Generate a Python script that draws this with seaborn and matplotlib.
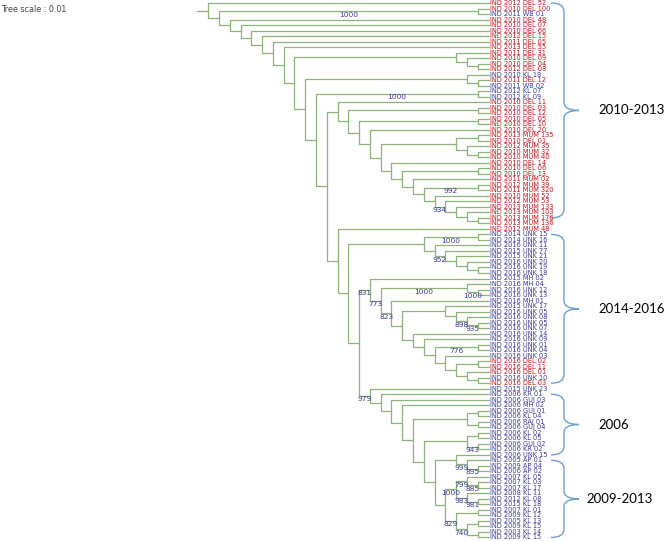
import matplotlib
matplotlib.use("Agg")
import matplotlib.pyplot as plt
import pandas as pd
import seaborn as sns
from matplotlib.patches import PathPatch
from matplotlib.path import Path

# ---- tree data (Newick pieces, bootstrap values as internal node labels) ----
TOP_RUNGS = [
    ("IND_2012_DEL_52", ""),
    ("(IND_2010_DEL_100,IND_2011_WB_01)1000", ""),
    ("IND_2010_DEL_48", ""),
    ("IND_2010_DEL_07", ""),
    ("IND_2010_DEL_66", ""),
    ("IND_2012_DEL_15", ""),
    ("IND_2011_DEL_05", ""),
    ("IND_2013_DEL_55", ""),
    ("(IND_2011_DEL_31,(IND_2010_DEL_09,(IND_2010_DEL_04,IND_2012_DEL_08)))", ""),
    ("(IND_2010_KL_18,(IND_2011_DEL_12,IND_2011_WB_02))", ""),
    ("(IND_2012_KL_07,IND_2012_KL_09)1000", ""),
]

DEL_MUM_RUNGS = [
    ("IND_2010_DEL_11", ""),
    ("(IND_2010_DEL_03,IND_2010_DEL_12)", ""),
    ("(IND_2010_DEL_05,IND_2010_DEL_10)", ""),
    ("IND_2010_DEL_20", ""),
    ("((IND_2013_MUM_135,IND_2010_DEL_01),(IND_2012_MUM_35,(IND_2010_MUM_32,IND_2010_MUM_40)))", ""),
    ("IND_2010_DEL_14", ""),
    ("(IND_2010_DEL_06,IND_2010_DEL_13)", ""),
    ("IND_2011_MUM_02", ""),
    ("(IND_2012_MUM_39,IND_2011_MUM_320)992", ""),
    ("IND_2010_MUM_52", ""),
    ("IND_2012_MUM_53", "934"),
    ("IND_2013_MUM_133", ""),
    ("IND_2013_MUM_103", ""),
]
DEL_MUM_TAIL = "(IND_2013_MUM_176,IND_2013_MUM_136)"

UNK_A_RUNGS = [
    ("(IND_2014_UNK_15,IND_2014_UNK_16)1000", ""),
    ("IND_2016_UNK_11", ""),
    ("IND_2015_UNK_77", "952"),
    ("IND_2015_UNK_21", ""),
    ("IND_2016_UNK_20", ""),
]
UNK_A_TAIL = "(IND_2016_UNK_19,IND_2016_UNK_18)"

UNK_C = "(IND_2015_UNK_17,(IND_2016_UNK_05,(IND_2016_UNK_08,(IND_2016_UNK_05,IND_2016_UNK_07)935)898))"
UNK_B_RUNGS = [
    ("IND_2015_MH_02", "831"),
    ("(IND_2016_MH_04,(IND_2016_UNK_12,IND_2016_UNK_13)1000)1000", "773"),
    ("IND_2016_MH_01", "823"),
    (UNK_C, ""),
    ("IND_2016_UNK_14", ""),
    ("IND_2016_UNK_09", ""),
    ("(IND_2016_UNK_01,IND_2016_UNK_04)776", ""),
    ("IND_2016_UNK_03", ""),
]
UNK_B_TAIL = "((IND_2016_DEL_02,IND_2016_DEL_11),(IND_2016_DEL_01,(IND_2016_UNK_10,IND_2016_DEL_03)))"

OLD_RUNGS = [
    ("IND_2015_UNK_23", "979"),
    ("IND_2006_KR_01", ""),
    ("IND_2006_GUJ_03", ""),
    ("IND_2006_MH_02", ""),
    ("((IND_2006_GUJ_01,IND_2006_KL_04),(IND_2006_RAJ_01,IND_2006_GUJ_04))", ""),
    ("((IND_2006_KL_02,IND_2006_KL_05),(IND_2006_GUJ_02,IND_2006_KR_02)943)", ""),
    ("(IND_2006_UNK_15,(IND_2005_AP_01,(IND_2009_AP_04,IND_2006_AP_02)895)999)", ""),
]
KL_A = "((IND_2007_KL_05,(IND_2007_KL_03,IND_2007_KL_17)885)799,(IND_2008_KL_11,(IND_2012_KL_08,IND_2015_KL_18)981)983)1000"
KL_B = "((IND_2007_KL_01,IND_2009_KL_12),((IND_2005_KL_13,IND_2009_KL_15),(IND_2003_KL_14,IND_2009_KL_15))740)829"

RED_REGIONS = ["DEL", "MUM"]

BRACKET_LABELS = ["2010-2013", "2014-2016", "2006", "2009-2013"]
BRACKET_FIRST = [0, 42, 71, 83]
BRACKET_LAST = [39, 69, 82, 97]

LINE_COLOR = "#8cb478"
RED = "#c0141c"
BLUE = "#3a3a9c"
BRACE_COLOR = "#6a9fd4"


def fold_ladder(rungs, tail):
    tree = tail
    for side, support in reversed(rungs):
        tree = f"({side},{tree}){support}"
    return tree


def parse_newick(text):
    pos = 0

    def read():
        nonlocal pos
        kids = []
        if text[pos] == "(":
            pos += 1
            kids.append(read())
            while text[pos] == ",":
                pos += 1
                kids.append(read())
            pos += 1
        start = pos
        while pos < len(text) and text[pos] not in ",();":
            pos += 1
        return {"name": text[start:pos], "children": kids}

    return read()


def layout(node, leaves):
    if not node["children"]:
        node["y"] = len(leaves)
        node["height"] = 0
        leaves.append(node)
    else:
        for child in node["children"]:
            layout(child, leaves)
        node["y"] = (node["children"][0]["y"] + node["children"][-1]["y"]) / 2
        node["height"] = 1 + max(c["height"] for c in node["children"])
    node["x"] = -node["height"]


def collect_edges(node, rows, supports):
    for child in node["children"]:
        edge = len(rows) // 3
        rows += [
            {"edge": edge, "x": node["x"], "y": node["y"]},
            {"edge": edge, "x": node["x"], "y": child["y"]},
            {"edge": edge, "x": child["x"], "y": child["y"]},
        ]
        if child["children"] and child["name"]:
            supports.append(((node["x"] + child["x"]) / 2, child["y"], child["name"]))
        collect_edges(child, rows, supports)


def draw_brace(ax, y0, y1, x0, xm, x1, curl):
    ym = (y0 + y1) / 2
    verts = [(x0, y0), (xm, y0), (xm, y0 + curl), (xm, ym - curl), (xm, ym), (x1, ym),
             (x1, ym), (xm, ym), (xm, ym + curl), (xm, y1 - curl), (xm, y1), (x0, y1)]
    codes = [Path.MOVETO, Path.CURVE3, Path.CURVE3, Path.LINETO, Path.CURVE3, Path.CURVE3,
             Path.MOVETO, Path.CURVE3, Path.CURVE3, Path.LINETO, Path.CURVE3, Path.CURVE3]
    ax.add_patch(PathPatch(Path(verts, codes), fill=False, edgecolor=BRACE_COLOR, linewidth=1.0))


sns.set_theme(style="white")
plt.rcParams["font.family"] = ["DejaVu Sans"]

backbone_tail = "({},{})".format(fold_ladder(UNK_B_RUNGS, UNK_B_TAIL),
                                 fold_ladder(OLD_RUNGS, f"({KL_A},{KL_B})"))
backbone = [
    *TOP_RUNGS,
    (fold_ladder(DEL_MUM_RUNGS, DEL_MUM_TAIL), ""),
    ("IND_2012_MUM_48", ""),
    (fold_ladder(UNK_A_RUNGS, UNK_A_TAIL), ""),
]
root = parse_newick(fold_ladder(backbone, backbone_tail) + ";")

leaves = []
layout(root, leaves)
rows, supports = [], []
collect_edges(root, rows, supports)
# short stem in front of the root
stem = len(rows) // 3
rows += [{"edge": stem, "x": root["x"] - 1, "y": root["y"]},
         {"edge": stem, "x": root["x"], "y": root["y"]}]
edges = pd.DataFrame(rows)

fig = plt.figure(figsize=(6.66, 5.41), dpi=100)
ax = fig.add_axes([0, 0, 1, 1])
sns.lineplot(data=edges, x="x", y="y", units="edge", estimator=None, sort=False,
             color=LINE_COLOR, linewidth=0.9, ax=ax, legend=False)

for leaf in leaves:
    label = leaf["name"].replace("_", " ")
    color = RED if label.split()[2] in RED_REGIONS else BLUE
    ax.text(0.15, leaf["y"], label, fontsize=4.8, color=color, va="center", ha="left")

for x, y, text in supports:
    ax.text(x, y + 0.1, text, fontsize=5.4, color=BLUE, va="top", ha="center")

for label, first, last in zip(BRACKET_LABELS, BRACKET_FIRST, BRACKET_LAST):
    draw_brace(ax, first, last, 5.8, 7.0, 8.4, 1.5)
    text_x = 9.1 if label == "2009-2013" else 10.2
    ax.text(text_x, (first + last) / 2, label, fontsize=9.5, color="black",
            va="center", ha="left", family=["Lato", "DejaVu Sans"])

fig.text(0.002, 1 - 9 / 541, "Tree scale : 0.01", fontsize=5.8, color="#444444", va="center")

step = 10.78
ax.set_xlim(-488.5 / step, (666 - 488.5) / step)
ax.set_ylim((541 - 3) / 5.51, -3 / 5.51)
ax.axis("off")

fig.savefig("out.png", dpi=100)
plt.close(fig)
